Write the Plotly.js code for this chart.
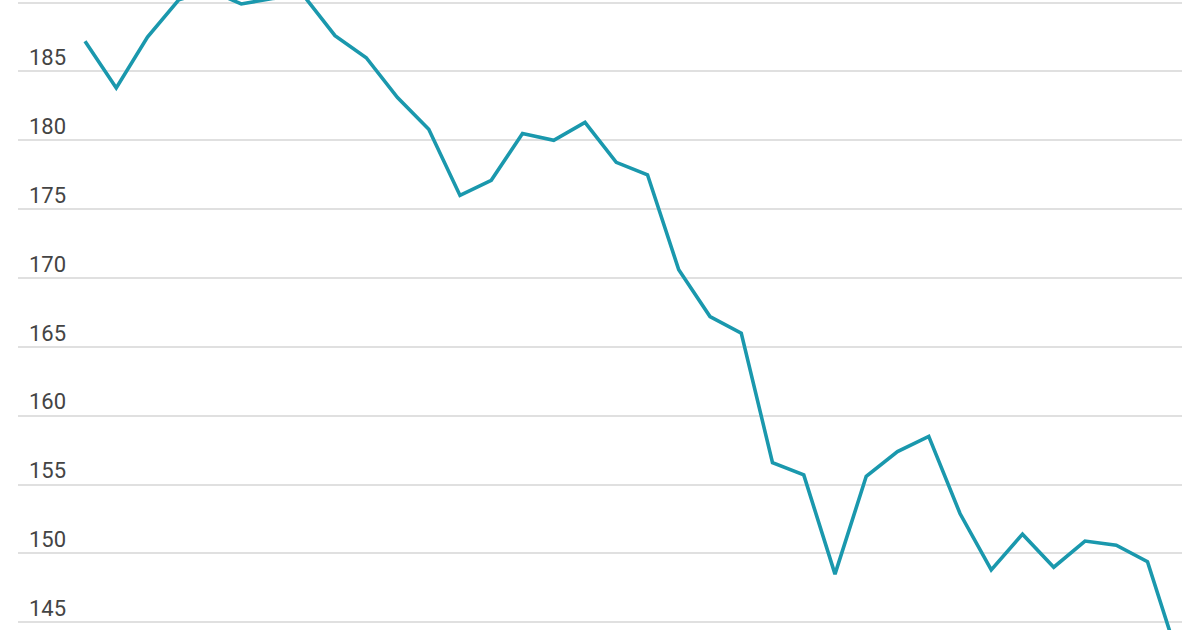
<!DOCTYPE html>
<html>
<head>
<meta charset="utf-8">
<script src="https://cdn.plot.ly/plotly-3.0.1.min.js"></script>
<style>
  html, body { margin: 0; padding: 0; background: #ffffff; }
  #chart { width: 1200px; height: 630px; }
</style>
</head>
<body>
<div id="chart"></div>
<script>
// Period index (x positions of the observations)
const periods = [0, 1, 2, 3, 4, 5, 6, 7, 8, 9, 10, 11, 12, 13, 14, 15, 16, 17,
                 18, 19, 20, 21, 22, 23, 24, 25, 26, 27, 28, 29, 30, 31, 32, 33, 34, 35];

// Series values
const values = [187.2, 183.8, 187.5, 190.2, 190.9, 189.9, 190.3, 190.5, 187.6, 186.0,
                183.1, 180.8, 176.0, 177.1, 180.5, 180.0, 181.3, 178.4, 177.5, 170.6,
                167.2, 166.0, 156.6, 155.7, 148.5, 155.6, 157.4, 158.5, 152.9, 148.8,
                151.4, 149.0, 150.9, 150.6, 149.4, 142.3];

// Y-axis ticks
const yTickVals = [145, 150, 155, 160, 165, 170, 175, 180, 185, 190];
const yTickText = ["145", "150", "155", "160", "165", "170", "175", "180", "185", ""];

const trace = {
  x: periods,
  y: values,
  type: "scatter",
  mode: "lines",
  line: { color: "#1a98ad", width: 3.6 },
  hoverinfo: "skip"
};

const layout = {
  width: 1200,
  height: 630,
  margin: { l: 18, r: 18, t: 0, b: 0, pad: 0 },
  paper_bgcolor: "#ffffff",
  plot_bgcolor: "#ffffff",
  showlegend: false,
  xaxis: {
    range: [-2.144, 35.104],
    showgrid: false,
    zeroline: false,
    showline: false,
    showticklabels: false,
    ticks: ""
  },
  yaxis: {
    range: [144.44, 190.19],
    tickmode: "array",
    tickvals: yTickVals,
    ticktext: yTickText,
    showgrid: true,
    gridcolor: "#e0e0e0",
    gridwidth: 2,
    zeroline: false,
    showline: false,
    ticks: "",
    ticklabelposition: "inside",
    ticklabelstandoff: 8,
    ticklabelshift: -14,
    tickfont: { family: "Roboto, 'Open Sans', sans-serif", size: 22, color: "#444444" }
  }
};

Plotly.newPlot("chart", [trace], layout, { staticPlot: true, displayModeBar: false });
</script>
</body>
</html>
